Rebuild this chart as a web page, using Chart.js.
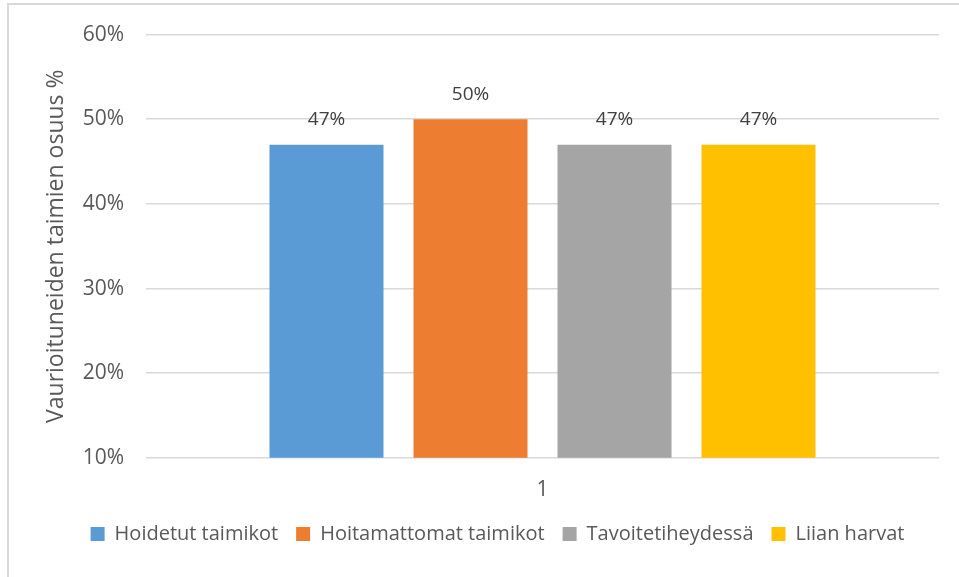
<!DOCTYPE html>
<html>
<head>
<meta charset="utf-8">
<script src="https://cdn.jsdelivr.net/npm/chart.js@4"></script>
<style>
  html,body{margin:0;padding:0;background:#fff;overflow:hidden}
  .frame{position:absolute;left:7px;top:3px;width:1000px;height:640px;border:2px solid #d9d9d9}
  .wrap{position:absolute;left:0;top:0;width:959px;height:577px}
</style>
</head>
<body>
<div class="frame"></div>
<div class="wrap"><canvas id="chart"></canvas></div>
<script>
// data
const categories = ['1'];
const seriesNames = ['Hoidetut taimikot','Hoitamattomat taimikot','Tavoitetiheydessä','Liian harvat'];
const seriesValues = [47, 50, 47, 47];
const seriesColors = ['#5b9bd5','#ed7d31','#a5a5a5','#ffc000'];
const yTicks = [10, 20, 30, 40, 50, 60];
const yTitle = 'Vaurioituneiden taimien osuus %';

const FONT = '"Open Sans", "DejaVu Sans", sans-serif';
const textCol = '#595959';

// small inline plugin for the value labels above the bars
const valueLabels = {
  id:'valueLabels',
  afterDatasetsDraw(chart){
    const ctx = chart.ctx;
    ctx.save();
    ctx.font = '19px ' + FONT;
    ctx.fillStyle = '#404040';
    ctx.textAlign = 'center'; ctx.textBaseline = 'middle';
    chart.data.datasets.forEach((ds,i)=>{
      chart.getDatasetMeta(i).data.forEach((bar,j)=>{
        ctx.fillText(ds.data[j] + '%', bar.x, bar.y - 25);
      });
    });
    ctx.restore();
  }
};

const datasets = seriesNames.map((name,i)=>({
  label:name, data:[seriesValues[i]], backgroundColor:seriesColors[i],
  categoryPercentage:0.7264, barPercentage:0.7917
}));

new Chart(document.getElementById('chart'), {
  type:'bar',
  data:{ labels:categories, datasets },
  plugins:[valueLabels],
  options:{
    responsive:true, maintainAspectRatio:false, animation:false,
    layout:{ padding:{left:56, top:33, right:20, bottom:23} },
    plugins:{
      legend:{ position:'bottom',
        labels:{ color:textCol, font:{family:FONT,size:20}, boxWidth:14, boxHeight:14, padding:18 } },
      tooltip:{enabled:false}
    },
    scales:{
      x:{ grid:{display:false}, border:{display:false},
          afterFit: s => { s.height -= 9; },
          ticks:{ color:textCol, font:{family:FONT,size:21}, padding:12 } },
      y:{ min:yTicks[0], max:yTicks[yTicks.length-1],
          afterBuildTicks: s => { s.ticks = yTicks.map(v=>({value:v})); },
          afterFit: s => { s.width = 90; },
          grid:{ color:'#d9d9d9', lineWidth:1.5, drawTicks:false },
          border:{display:false},
          ticks:{ color:textCol, font:{family:FONT,size:21}, padding:22, callback:v=>v+'%' },
          title:{ display:true, text:yTitle, color:textCol, font:{family:FONT,size:23},
                  padding:{top:-13, bottom:0} } }
    }
  }
});
</script>
</body>
</html>
